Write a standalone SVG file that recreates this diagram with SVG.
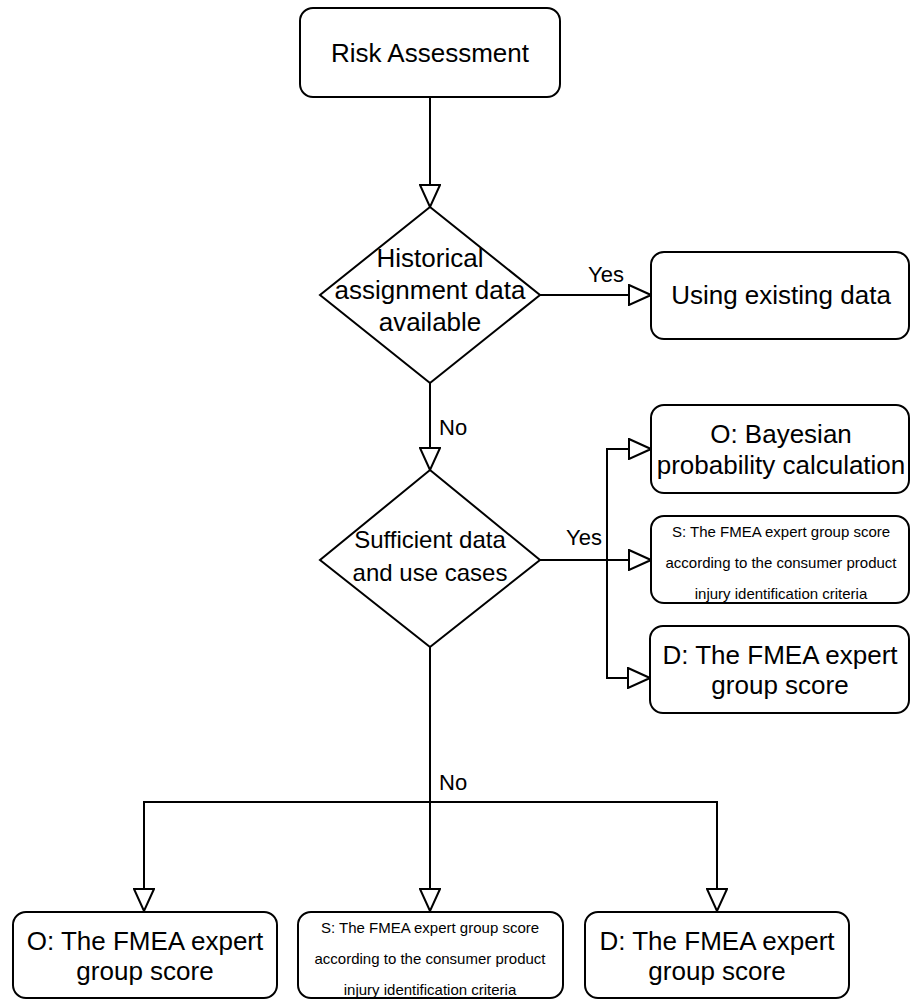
<svg xmlns="http://www.w3.org/2000/svg" width="910" height="1000" viewBox="0 0 910 1000">
<style>
.box{fill:#fff;stroke:#000;stroke-width:2}
.edge{fill:none;stroke:#000;stroke-width:2;marker-end:url(#arr)}
.line{fill:none;stroke:#000;stroke-width:2}
text{font-family:"Liberation Sans",Arial,sans-serif;fill:#000;text-anchor:middle}
.t26{font-size:26px}
.t24{font-size:24px}
.t22{font-size:22px}
.t15{font-size:15px}
.lbl{font-size:22px;text-anchor:start}
</style>
<defs>
<marker id="arr" viewBox="0 0 24 22" refX="23" refY="11" markerWidth="24" markerHeight="22" markerUnits="userSpaceOnUse" orient="auto">
<path d="M1,1 L23,11 L1,21 Z" fill="#fff" stroke="#000" stroke-width="2"/>
</marker>
</defs>
<g id="connectors">
<path class="edge" d="M430,97 L430,207"/>
<path class="edge" d="M540,295 L651,295"/>
<path class="edge" d="M430,383 L430,470"/>
<path class="line" d="M540,560 L607,560"/>
<path class="edge" d="M607,560 L607,449 L651,449"/>
<path class="edge" d="M607,560 L651,560"/>
<path class="edge" d="M607,560 L607,678 L650,678"/>
<path class="edge" d="M430,647 L430,911"/>
<path class="edge" d="M430,802 L144,802 L144,911"/>
<path class="edge" d="M430,802 L717,802 L717,911"/>
<text class="lbl" x="588" y="282">Yes</text>
<text class="lbl" x="439" y="435">No</text>
<text class="lbl" x="566" y="545">Yes</text>
<text class="lbl" x="439" y="790">No</text>
</g>
<g id="risk-assessment">
<rect class="box" x="300" y="8" width="260" height="89" rx="13"/>
<text class="t26" x="430" y="62">Risk Assessment</text>
</g>
<g id="historical-data">
<polygon class="box" points="430,207 540,295 430,383 320,295"/>
<text class="t26" x="430" y="267">Historical</text>
<text class="t26" x="430" y="299">assignment data</text>
<text class="t26" x="430" y="331">available</text>
</g>
<g id="using-existing">
<rect class="box" x="651" y="252" width="258" height="87" rx="13"/>
<text class="t26" x="781" y="304">Using existing data</text>
</g>
<g id="sufficient-data">
<polygon class="box" points="430,470 540,560 430,647 320,560"/>
<text class="t24" x="430" y="548">Sufficient data</text>
<text class="t24" x="430" y="581">and use cases</text>
</g>
<g id="o-bayesian">
<rect class="box" x="651" y="405" width="258" height="88" rx="13"/>
<text class="t26" x="781" y="443">O: Bayesian</text>
<text class="t26" x="781" y="474">probability calculation</text>
</g>
<g id="s-right">
<rect class="box" x="651" y="516" width="258" height="87" rx="13"/>
<text class="t15" x="781" y="537">S: The FMEA expert group score</text>
<text class="t15" x="781" y="568">according to the consumer product</text>
<text class="t15" x="781" y="599">injury identification criteria</text>
</g>
<g id="d-right">
<rect class="box" x="650" y="626" width="259" height="87" rx="13"/>
<text class="t26" x="780" y="664">D: The FMEA expert</text>
<text class="t26" x="780" y="694">group score</text>
</g>
<g id="o-bottom">
<rect class="box" x="13" y="912" width="264" height="86" rx="13"/>
<text class="t26" x="145" y="950">O: The FMEA expert</text>
<text class="t26" x="145" y="980">group score</text>
</g>
<g id="s-bottom">
<rect class="box" x="298" y="912" width="265" height="86" rx="13"/>
<text class="t15" x="430" y="933">S: The FMEA expert group score</text>
<text class="t15" x="430" y="964">according to the consumer product</text>
<text class="t15" x="430" y="995">injury identification criteria</text>
</g>
<g id="d-bottom">
<rect class="box" x="585" y="912" width="264" height="86" rx="13"/>
<text class="t26" x="717" y="950">D: The FMEA expert</text>
<text class="t26" x="717" y="980">group score</text>
</g>
</svg>
